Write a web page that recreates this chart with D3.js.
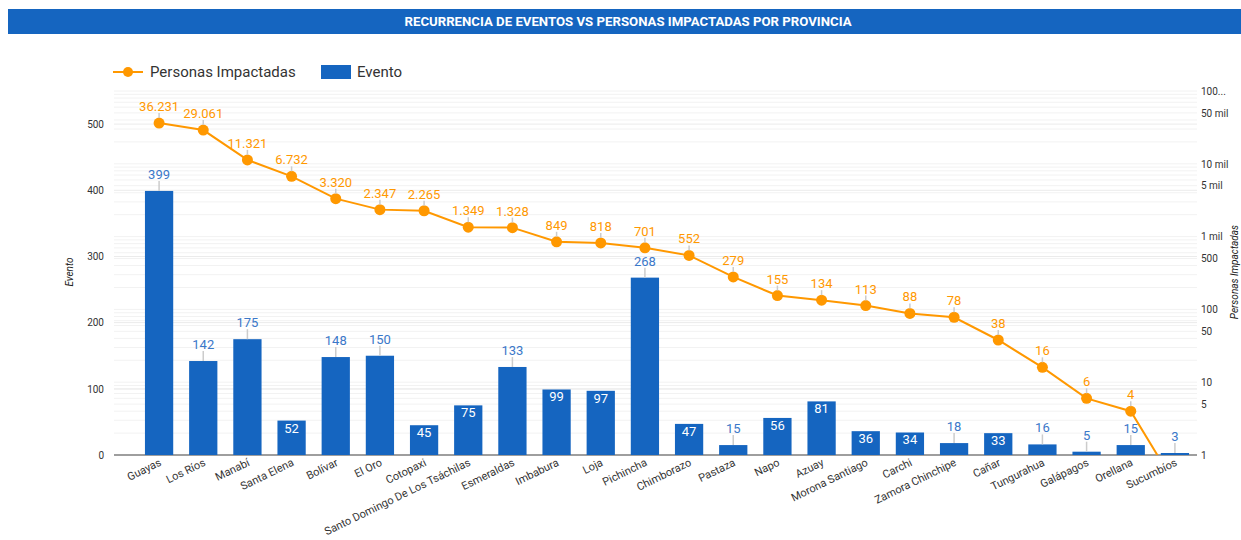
<!DOCTYPE html>
<html lang="es">
<head>
<meta charset="UTF-8">
<title>Recurrencia de eventos vs personas impactadas</title>
<script src="https://d3js.org/d3.v7.min.js"></script>
<style>
  body { margin: 0; background: #fff; font-family: Roboto, "Open Sans", Arial, sans-serif; }
  svg text { font-family: Roboto, "Open Sans", Arial, sans-serif; }
</style>
</head>
<body>
<svg id="chart" width="1241" height="540"></svg>
<script>
// datos
const provincias = ["Guayas", "Los Ríos", "Manabí", "Santa Elena", "Bolívar", "El Oro", "Cotopaxi",
  "Santo Domingo De Los Tsáchilas", "Esmeraldas", "Imbabura", "Loja", "Pichincha", "Chimborazo",
  "Pastaza", "Napo", "Azuay", "Morona Santiago", "Carchi", "Zamora Chinchipe", "Cañar",
  "Tungurahua", "Galápagos", "Orellana", "Sucumbíos"];
const eventos = [399, 142, 175, 52, 148, 150, 45, 75, 133, 99, 97, 268, 47, 15, 56, 81, 36, 34, 18, 33, 16, 5, 15, 3];
const personas = [36231, 29061, 11321, 6732, 3320, 2347, 2265, 1349, 1328, 849, 818, 701, 552, 279, 155, 134, 113, 88, 78, 38, 16, 6, 4, 0];
const leftTicks = [0, 100, 200, 300, 400, 500];
const rightTicks = [1, 5, 10, 50, 100, 500, 1000, 5000, 10000, 50000, 100000];
const rightTickLabels = ["1", "5", "10", "50", "100", "500", "1 mil", "5 mil", "10 mil", "50 mil", "100..."];

const blue = "#1565C0", orange = "#FF9800";
const fmt = d3.format(",d");
const fmtEs = v => fmt(v).replace(/,/g, ".");

const svg = d3.select("#chart");

// barra de título
svg.append("rect").attr("x", 8).attr("y", 9).attr("width", 1233).attr("height", 25).attr("fill", blue);
svg.append("text").attr("x", 628).attr("y", 25.5).attr("text-anchor", "middle")
  .attr("fill", "#fff").style("font-size", "12px").style("font-weight", "bold")
  .attr("textLength", 447).attr("lengthAdjust", "spacingAndGlyphs")
  .text("RECURRENCIA DE EVENTOS VS PERSONAS IMPACTADAS POR PROVINCIA");

// leyenda
const leg = svg.append("g");
leg.append("line").attr("x1", 113).attr("x2", 143).attr("y1", 72).attr("y2", 72).attr("stroke", orange).attr("stroke-width", 2);
leg.append("circle").attr("cx", 128).attr("cy", 72).attr("r", 5).attr("fill", orange);
leg.append("text").attr("x", 150).attr("y", 77).style("font-size", "15px").attr("fill", "#333").text("Personas Impactadas");
leg.append("rect").attr("x", 321).attr("y", 65).attr("width", 30).attr("height", 14).attr("fill", blue);
leg.append("text").attr("x", 357).attr("y", 77).style("font-size", "15px").attr("fill", "#333").text("Evento");

// escalas
const plotL = 114, plotR = 1197, plotTop = 91, base = 455;
const x = d3.scaleBand().domain(provincias).range([137, 1197]).paddingInner(0.36).paddingOuter(0.18);
const yL = d3.scaleLinear().domain([0, 550]).range([base, plotTop]);
const yR = d3.scaleLog().domain([1, 100000]).range([base, plotTop]);
const LOG_FLOOR = 0.4; // los ceros se dibujan debajo de la base, recortados

// líneas de cuadrícula
const grid = svg.append("g");
const minor = [];
for (let e = 0; e < 5; e++) for (let m = 1; m <= 9; m++) minor.push(m * Math.pow(10, e));
minor.push(100000);
grid.selectAll("line.minor").data(minor).enter().append("line")
  .attr("x1", plotL).attr("x2", plotR).attr("y1", d => yR(d)).attr("y2", d => yR(d))
  .attr("stroke", "#f2f2f2").attr("stroke-width", 1);
grid.selectAll("line.major").data(leftTicks).enter().append("line")
  .attr("x1", plotL).attr("x2", plotR).attr("y1", d => yL(d)).attr("y2", d => yL(d))
  .attr("stroke", "#ebebeb").attr("stroke-width", 1);

// eje izquierdo
const axL = svg.append("g").attr("transform", `translate(${plotL},0)`)
  .call(d3.axisLeft(yL).tickValues(leftTicks).tickSize(0).tickPadding(10));
axL.select(".domain").remove();
axL.selectAll("text").style("font-size", "10px").attr("fill", "#333");
svg.append("text").attr("transform", `translate(73,272) rotate(-90)`).attr("text-anchor", "middle")
  .style("font-size", "10px").style("font-style", "italic").attr("fill", "#222").text("Evento");

// eje derecho (log)
const axR = svg.append("g").attr("transform", `translate(${plotR},0)`)
  .call(d3.axisRight(yR).tickValues(rightTicks).tickSize(0).tickPadding(4)
    .tickFormat((d, i) => rightTickLabels[i]));
axR.select(".domain").remove();
axR.selectAll("text").style("font-size", "10px").attr("fill", "#333");
svg.append("text").attr("transform", `translate(1238,272) rotate(-90)`).attr("text-anchor", "middle")
  .style("font-size", "10px").style("font-style", "italic").attr("fill", "#222").text("Personas Impactadas");

// línea base
svg.append("line").attr("x1", plotL).attr("x2", plotR).attr("y1", base).attr("y2", base)
  .attr("stroke", "#9e9e9e").attr("stroke-width", 2);

// barras
const bw = x.bandwidth();
const bars = svg.append("g");
bars.selectAll("rect").data(eventos).enter().append("rect")
  .attr("x", (d, i) => x(provincias[i])).attr("y", d => yL(d))
  .attr("width", bw).attr("height", d => base - yL(d)).attr("fill", blue);

// etiquetas de barras
const cx = i => x(provincias[i]) + bw / 2;
const inside = v => v >= 20 && v < 130;
const bl = svg.append("g");
eventos.forEach((v, i) => {
  if (inside(v)) {
    bl.append("text").attr("x", cx(i)).attr("y", yL(v) + 12).attr("text-anchor", "middle")
      .style("font-size", "13px").attr("fill", "#fff").text(v);
  } else {
    bl.append("line").attr("x1", cx(i)).attr("x2", cx(i)).attr("y1", yL(v)).attr("y2", yL(v) - 10)
      .attr("stroke", "#ccc").attr("stroke-width", 1.5);
    bl.append("text").attr("x", cx(i)).attr("y", yL(v) - 12).attr("text-anchor", "middle")
      .style("font-size", "13px").attr("fill", "#3a78c9").text(v);
  }
});

// línea de personas impactadas
svg.append("clipPath").attr("id", "clip").append("rect")
  .attr("x", 0).attr("y", 0).attr("width", 1241).attr("height", base);
const py = v => yR(Math.max(v, LOG_FLOOR));
const line = d3.line().x((d, i) => cx(i)).y(d => py(d));
const lg = svg.append("g").attr("clip-path", "url(#clip)");
lg.append("path").datum(personas).attr("d", line).attr("fill", "none")
  .attr("stroke", orange).attr("stroke-width", 2);
lg.selectAll("circle").data(personas).enter().append("circle")
  .attr("cx", (d, i) => cx(i)).attr("cy", d => py(d)).attr("r", 5.5).attr("fill", orange);

const ll = svg.append("g");
personas.forEach((v, i) => {
  if (v < 1) return;
  ll.append("line").attr("x1", cx(i)).attr("x2", cx(i)).attr("y1", yR(v) - 5).attr("y2", yR(v) - 10)
    .attr("stroke", "#ccc").attr("stroke-width", 1.5);
  ll.append("text").attr("x", cx(i)).attr("y", yR(v) - 12).attr("text-anchor", "middle")
    .style("font-size", "13px").attr("fill", orange).text(fmtEs(v));
});

// etiquetas del eje x
const xl = svg.append("g");
provincias.forEach((p, i) => {
  xl.append("text").attr("transform", `translate(${cx(i) + 3},${465}) rotate(-26)`)
    .attr("text-anchor", "end").style("font-size", "11px").attr("fill", "#333").text(p);
});
</script>
</body>
</html>
